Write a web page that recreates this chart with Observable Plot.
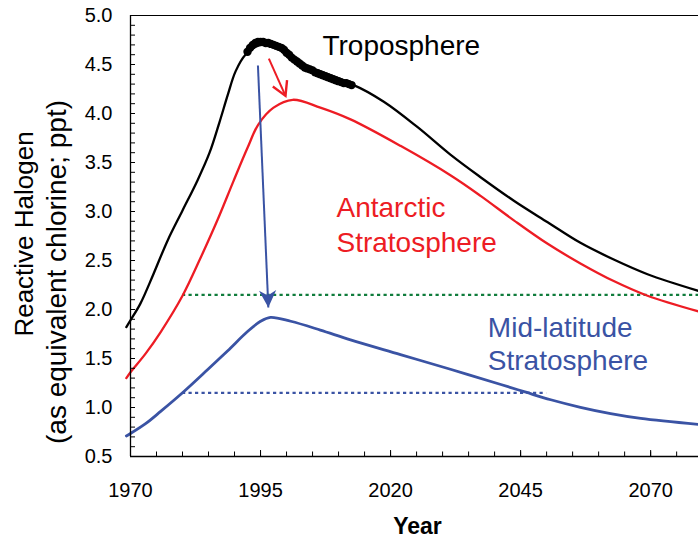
<!DOCTYPE html>
<html>
<head>
<meta charset="utf-8">
<script src="https://cdn.jsdelivr.net/npm/d3@7"></script>
<script src="https://cdn.jsdelivr.net/npm/@observablehq/plot@0.6"></script>
<style>
  body { margin: 0; background: #fff; }
  #chart svg { display: block; }
</style>
</head>
<body>
<div id="chart"></div>
<script>
// ---------- data ----------
const tropYears  = [1969.2, 1970, 1971.9, 1974.4, 1977.1, 1980, 1982.9, 1985.2, 1987.1, 1988.7, 1990.2, 1992.1, 1995, 1998, 2002, 2005, 2009, 2012.9, 2018.7, 2025.2, 2031.5, 2037.3, 2043.7, 2050.2, 2056.5, 2062.9, 2069.4, 2079.2];
const tropValues = [1.82, 1.89, 2.06, 2.36, 2.70, 3.01, 3.32, 3.60, 3.91, 4.19, 4.43, 4.60, 4.70, 4.69, 4.54, 4.44, 4.35, 4.29, 4.12, 3.86, 3.58, 3.35, 3.11, 2.89, 2.68, 2.51, 2.36, 2.19];

const antYears  = [1969.2, 1970, 1972.9, 1975.8, 1980, 1983.5, 1986.7, 1989.8, 1992.5, 1994.6, 1997.5, 2001.2, 2006.5, 2012.3, 2021.9, 2031.5, 2037.3, 2043.7, 2050.2, 2056.5, 2062.9, 2069.4, 2079.2];
const antValues = [1.30, 1.36, 1.55, 1.77, 2.14, 2.53, 2.91, 3.31, 3.65, 3.89, 4.06, 4.14, 4.06, 3.94, 3.67, 3.37, 3.16, 2.91, 2.67, 2.47, 2.29, 2.14, 1.98];

const midYears  = [1969.2, 1970, 1972.9, 1975.8, 1980, 1984.8, 1988.7, 1992.5, 1995, 1996.9, 2000.8, 2006.5, 2012.3, 2021.9, 2031.5, 2041.2, 2046, 2050.8, 2056.5, 2062.3, 2068.1, 2079.2];
const midValues = [0.71, 0.735, 0.835, 0.96, 1.15, 1.385, 1.58, 1.775, 1.88, 1.92, 1.88, 1.79, 1.69, 1.54, 1.39, 1.235, 1.156, 1.079, 1.002, 0.938, 0.889, 0.828];

// observed troposphere (dots)
const obsYears  = [1992.5, 1993, 1993.5, 1994, 1994.5, 1995, 1995.5, 1996, 1996.5, 1997, 1997.5, 1998, 1998.5, 1999, 1999.5, 2000, 2000.5, 2001, 2001.5, 2002, 2002.5, 2003, 2003.5, 2004, 2004.5, 2005, 2005.5, 2006, 2006.5, 2007, 2007.5, 2008, 2008.5, 2009, 2009.5, 2010, 2010.5, 2011, 2011.5, 2012, 2012.5];
const obsValues = [4.63, 4.67, 4.70, 4.72, 4.73, 4.73, 4.73, 4.72, 4.72, 4.71, 4.70, 4.69, 4.68, 4.67, 4.65, 4.62, 4.60, 4.57, 4.55, 4.53, 4.51, 4.49, 4.47, 4.46, 4.45, 4.44, 4.42, 4.41, 4.40, 4.39, 4.38, 4.37, 4.36, 4.35, 4.34, 4.33, 4.32, 4.31, 4.31, 4.30, 4.29];

// 1980 reference levels (dotted)
const refNames     = ["antarctic", "midlatitude"];
const refValues    = [2.15, 1.15];
const refStartYear = [1980, 1980];
const refEndYear   = [2079.2, 2050];

// arrows (troposphere -> stratosphere)
const arrowNames      = ["antarctic", "midlatitude"];
const arrowStartYear  = [1996.6, 1994.5];
const arrowStartValue = [4.56, 4.49];
const arrowEndYear    = [1999.8, 1996.5];
const arrowEndValue   = [4.18, 2.02];

// labels
const labelTexts  = ["Troposphere", "Antarctic\nStratosphere", "Mid-latitude\nStratosphere"];
const labelYears  = [2006.9, 2009.6, 2038.7];
const labelValues = [4.597, 2.585, 1.378];

// axes
const xDomain = [1970, 2079.2];
const yDomain = [0.5, 5.0];
const xTickLabels = [1970, 1995, 2020, 2045, 2070];
const yTickLabels = [0.5, 1.0, 1.5, 2.0, 2.5, 3.0, 3.5, 4.0, 4.5, 5.0];
const xMinorTicks = d3.range(1970, 2076, 5);
const yMinorTicks = d3.range(5, 51, 1).map(d => d / 10);
const yTitle1 = "Reactive Halogen";
const yTitle2 = "(as equivalent chlorine; ppt)";
const xTitle = "Year";

// ---------- styles ----------
const BLACK = "#000000", RED = "#ed1c24", BLUE = "#3a53a4", GREEN = "#107c3c";
const W = 698, H = 539, mL = 130, mR = 0, mT = 15, mB = 83;
const FONT = "'Liberation Sans', Arial, Helvetica, sans-serif";

// ---------- tables ----------
const trop = tropYears.map((y, i) => ({year: y, value: tropValues[i]}));
const ant  = antYears.map((y, i) => ({year: y, value: antValues[i]}));
const mid  = midYears.map((y, i) => ({year: y, value: midValues[i]}));
const obs  = obsYears.map((y, i) => ({year: y, value: obsValues[i]}));
const refs = refNames.map((n, i) => ({name: n, value: refValues[i], x1: refStartYear[i], x2: refEndYear[i]}));
const arrows = arrowNames.map((n, i) => ({name: n, x1: arrowStartYear[i], y1: arrowStartValue[i], x2: arrowEndYear[i], y2: arrowEndValue[i]}));
const labels = labelTexts.map((t, i) => ({text: t, year: labelYears[i], value: labelValues[i]}));

// screen-space direction of each arrow (for rotating its head)
const kx = (W - mL - mR) / (xDomain[1] - xDomain[0]);
const ky = (H - mT - mB) / (yDomain[1] - yDomain[0]);
arrows.forEach(a => {
  const vx = (a.x2 - a.x1) * kx;
  const vy = -(a.y2 - a.y1) * ky;
  a.angle = Math.atan2(vx, -vy) * 180 / Math.PI;
});

// filled (concave) arrowhead, tip at origin pointing up
const filledHead = {
  draw(ctx, size) {
    const r = Math.sqrt(size / Math.PI);
    ctx.moveTo(0, 0);
    ctx.lineTo(-r, 2 * r);
    ctx.lineTo(0, 1.4 * r);
    ctx.lineTo(r, 2 * r);
    ctx.closePath();
  }
};
// open V arrowhead, tip at origin pointing up
const openHead = {
  draw(ctx, size) {
    const r = Math.sqrt(size / Math.PI);
    ctx.moveTo(-r, 1.75 * r);
    ctx.lineTo(0, 0);
    ctx.lineTo(r, 1.75 * r);
  }
};

const antArrow = arrows.filter(d => d.name === "antarctic");
const midArrow = arrows.filter(d => d.name === "midlatitude");

const chart = Plot.plot({
  width: W, height: H,
  marginLeft: mL, marginRight: mR, marginTop: mT, marginBottom: mB,
  style: {fontFamily: FONT, fontSize: "20px", color: BLACK, background: "#fff"},
  x: {domain: xDomain},
  y: {domain: yDomain},
  marks: [
    // reference levels
    Plot.ruleY(refs.filter(d => d.name === "antarctic"), {y: "value", x1: "x1", x2: "x2", stroke: GREEN, strokeWidth: 2.2, strokeDasharray: "3.2,3.3"}),
    Plot.ruleY(refs.filter(d => d.name === "midlatitude"), {y: "value", x1: "x1", x2: "x2", stroke: BLUE, strokeWidth: 2.2, strokeDasharray: "3.2,3.3"}),
    // curves
    Plot.line(mid,  {x: "year", y: "value", stroke: BLUE,  strokeWidth: 2.8, curve: "catmull-rom"}),
    Plot.line(ant,  {x: "year", y: "value", stroke: RED,   strokeWidth: 2.3, curve: "catmull-rom"}),
    Plot.line(trop, {x: "year", y: "value", stroke: BLACK, strokeWidth: 2.3, curve: "catmull-rom"}),
    Plot.dot(obs,   {x: "year", y: "value", r: 4.2, fill: BLACK, stroke: "none"}),
    // arrows
    Plot.link(antArrow, {x1: "x1", y1: "y1", x2: "x2", y2: "y2", stroke: RED, strokeWidth: 2}),
    Plot.dot(antArrow, {x: "x2", y: "y2", symbol: openHead, r: 7.8, fill: "none", stroke: RED, strokeWidth: 2.4, strokeLinejoin: "miter", rotate: "angle"}),
    Plot.link(midArrow, {x1: "x1", y1: "y1", x2: "x2", y2: "y2", stroke: BLUE, strokeWidth: 2}),
    Plot.dot(midArrow, {x: "x2", y: "y2", symbol: filledHead, r: 8.6, fill: BLUE, stroke: "none", rotate: "angle"}),
    // curve labels
    Plot.text(labels.slice(0, 1), {x: "year", y: "value", text: "text", textAnchor: "start", lineAnchor: "bottom", fontSize: 28, fill: BLACK}),
    Plot.text(labels.slice(1, 2), {x: "year", y: "value", text: "text", textAnchor: "start", lineAnchor: "bottom", fontSize: 28, lineHeight: 1.25, fill: RED}),
    Plot.text(labels.slice(2, 3), {x: "year", y: "value", text: "text", textAnchor: "start", lineAnchor: "bottom", fontSize: 28, lineHeight: 1.19, fill: BLUE}),
    // frame lines
    Plot.ruleX([xDomain[0]], {stroke: BLACK, strokeWidth: 1.3}),
    Plot.ruleY([yDomain[0]], {stroke: BLACK, strokeWidth: 1.3}),
    Plot.ruleY([yDomain[1]], {stroke: BLACK, strokeWidth: 1.1}),
    // axes: inward ticks
    Plot.axisX(xMinorTicks, {anchor: "bottom", tickSize: 4.5, dy: -4.5, text: null, label: null, stroke: BLACK}),
    Plot.axisX(xTickLabels, {anchor: "bottom", tickSize: 6, dy: -6, text: null, label: null, stroke: BLACK}),
    Plot.axisX(xTickLabels, {anchor: "bottom", tickSize: 0, tickPadding: 26, tickFormat: d => String(d), label: null, fontSize: 20, fill: BLACK}),
    Plot.axisY(yMinorTicks, {anchor: "left", tickSize: 5, dx: 5, text: null, label: null, stroke: BLACK}),
    Plot.axisY(yTickLabels, {anchor: "left", tickSize: 0, tickPadding: 18, tickFormat: d3.format(".1f"), label: null, fontSize: 20, fill: BLACK}),
    // axis titles
    Plot.text([yTitle1], {frameAnchor: "left", rotate: -90, dx: -98, dy: -2, lineAnchor: "bottom", textAnchor: "middle", fontSize: 26, fill: BLACK}),
    Plot.text([yTitle2], {frameAnchor: "left", rotate: -90, dx: -65, dy: 36, lineAnchor: "bottom", textAnchor: "middle", fontSize: 28, fill: BLACK}),
    Plot.text([xTitle], {frameAnchor: "bottom", dx: 3, dy: 77, lineAnchor: "bottom", fontSize: 23, fontWeight: "bold", fill: BLACK})
  ]
});
document.getElementById("chart").appendChild(chart);
</script>
</body>
</html>
